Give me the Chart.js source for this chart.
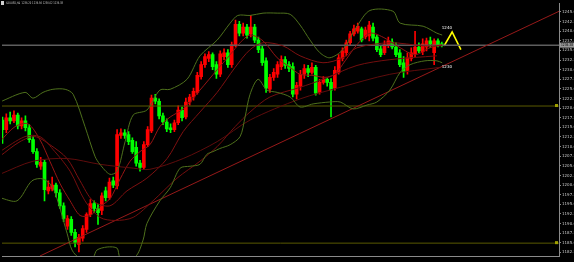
<!DOCTYPE html>
<html><head><meta charset="utf-8">
<script src="https://cdn.jsdelivr.net/npm/chart.js@4"></script>
<style>html,body{margin:0;padding:0;background:#000;overflow:hidden}canvas{display:block}</style>
</head><body>
<canvas id="c" width="574" height="262" style="width:574px;height:262px"></canvas>
<script>
// ---- DATA ----
const opens=[1216.9,1214.4,1217.5,1216.7,1218.2,1215.4,1216.7,1214.9,1211.8,1208.7,1204.9,1205.9,1198.5,1199.0,1200.0,1198.0,1194.6,1189.3,1191.1,1187.7,1184.6,1186.2,1188.5,1192.3,1195.2,1193.9,1193.4,1198.5,1196.7,1201.1,1199.8,1212.9,1213.6,1213.1,1211.6,1209.8,1205.7,1204.6,1210.5,1214.1,1222.6,1221.8,1218.0,1216.4,1214.9,1214.4,1216.2,1219.5,1217.7,1221.6,1222.9,1224.1,1228.2,1231.3,1232.9,1233.9,1231.3,1228.8,1233.4,1234.4,1231.3,1236.5,1241.8,1239.5,1241.1,1239.3,1241.1,1237.7,1235.4,1232.3,1224.9,1228.0,1228.8,1230.8,1232.6,1231.3,1230.8,1223.6,1225.7,1228.8,1230.3,1229.3,1230.6,1224.1,1226.7,1227.5,1226.7,1225.2,1229.3,1232.9,1234.4,1237.0,1239.3,1240.0,1240.6,1238.5,1238.8,1241.1,1238.5,1235.4,1234.4,1236.5,1237.2,1235.9,1234.4,1231.8,1229.8,1232.9,1234.1,1235.9,1234.7,1235.9,1237.5,1234.4,1237.5,1236.7];
const highs=[1217.7,1218.5,1219.0,1219.3,1218.7,1217.5,1218.0,1215.7,1212.6,1209.5,1207.2,1206.4,1201.1,1202.1,1200.5,1198.8,1195.4,1192.1,1191.8,1188.5,1187.2,1189.5,1192.8,1196.2,1195.9,1194.9,1198.0,1199.5,1201.8,1202.1,1214.4,1214.6,1214.4,1213.9,1212.3,1211.3,1206.4,1211.3,1215.2,1223.4,1223.6,1222.4,1218.7,1217.2,1215.9,1216.9,1220.6,1220.3,1222.6,1223.6,1225.2,1229.3,1232.1,1234.1,1234.7,1234.4,1232.1,1234.9,1235.4,1235.2,1237.2,1242.9,1242.6,1242.1,1241.8,1244.1,1241.8,1238.5,1236.2,1233.1,1228.8,1230.3,1232.1,1233.6,1233.4,1232.1,1231.8,1226.7,1229.8,1231.3,1231.1,1231.8,1231.1,1227.5,1228.2,1228.0,1227.7,1230.8,1233.9,1235.7,1237.7,1240.0,1241.6,1242.1,1241.1,1241.1,1242.6,1242.1,1239.0,1236.2,1237.5,1238.5,1238.0,1237.0,1235.2,1233.4,1234.4,1235.7,1240.0,1237.0,1238.0,1238.2,1238.5,1238.0,1238.0,1237.2];
const lows=[1210.8,1213.6,1215.9,1216.2,1214.6,1214.6,1214.1,1211.1,1208.2,1204.6,1204.1,1195.9,1197.7,1198.5,1196.9,1193.9,1190.5,1188.5,1186.9,1183.9,1182.6,1185.4,1187.7,1191.8,1192.8,1189.8,1192.3,1195.9,1196.2,1199.3,1199.0,1212.1,1212.1,1210.5,1208.2,1204.9,1203.6,1204.1,1210.0,1213.6,1221.1,1217.2,1215.7,1213.9,1213.6,1213.9,1215.7,1216.7,1217.2,1220.8,1222.1,1223.6,1227.5,1230.6,1232.1,1230.0,1227.7,1228.2,1232.6,1230.6,1230.6,1235.9,1238.8,1238.8,1238.2,1238.5,1237.0,1234.4,1231.1,1224.1,1224.1,1227.2,1228.0,1230.0,1230.3,1229.5,1222.9,1222.4,1224.7,1227.7,1228.2,1228.8,1223.4,1223.6,1226.2,1225.7,1217.7,1224.7,1228.8,1232.3,1233.6,1236.5,1238.8,1239.5,1237.2,1238.0,1237.5,1237.5,1234.7,1233.4,1233.9,1235.7,1235.4,1233.4,1230.8,1228.0,1228.8,1232.3,1233.4,1234.4,1233.9,1234.9,1235.7,1231.3,1235.9,1235.9];
const closes=[1214.4,1217.5,1216.7,1218.2,1215.4,1216.7,1214.9,1211.8,1208.7,1205.4,1205.9,1198.8,1199.5,1200.0,1198.0,1194.6,1191.3,1191.3,1187.7,1185.1,1186.4,1188.7,1192.3,1195.2,1193.9,1192.8,1197.2,1196.7,1200.8,1200.0,1213.1,1213.6,1212.9,1211.3,1208.7,1205.7,1204.6,1210.5,1214.4,1222.6,1221.8,1218.0,1216.4,1214.6,1214.4,1216.2,1219.5,1217.5,1221.6,1222.9,1224.4,1228.5,1231.3,1233.4,1233.9,1230.8,1228.8,1234.1,1234.4,1231.3,1236.5,1241.8,1239.5,1241.1,1239.0,1241.1,1237.7,1235.2,1231.8,1225.2,1228.0,1229.3,1231.3,1232.6,1231.1,1230.3,1223.6,1225.9,1228.8,1230.3,1229.3,1230.6,1223.9,1226.7,1227.5,1226.7,1224.7,1229.8,1233.1,1234.9,1237.0,1239.3,1240.6,1241.3,1237.7,1240.3,1241.6,1238.2,1235.2,1233.9,1236.5,1237.5,1235.9,1233.9,1231.3,1229.5,1233.1,1234.4,1235.9,1234.9,1236.7,1237.5,1236.7,1237.5,1236.5,1236.4];

const timeLabels=["25 Jan 2017","26 Jan 00:00","26 Jan 20:00","27 Jan 16:00","30 Jan 12:00","31 Jan 08:00","1 Feb 04:00","2 Feb 00:00","2 Feb 20:00","3 Feb 16:00","6 Feb 12:00","7 Feb 08:00","8 Feb 04:00","9 Feb 00:00","9 Feb 20:00","10 Feb 16:00","13 Feb 12:00","14 Feb 08:00","15 Feb 04:00","16 Feb 00:00","16 Feb 20:00","17 Feb 16:00","20 Feb 12:00","21 Feb 08:00"];
const timeTickIdx=[0,5,10,15,20,25,30,35,40,45,50,55,60,65,70,75,80,85,90,95,100,105,110,115];
const priceTicks=[1245,1242.5,1240,1237.5,1235,1232.5,1230,1227.5,1225,1222.5,1220,1217.5,1215,1212.5,1210,1207.5,1205,1202.5,1200,1197.5,1195,1192.5,1190,1187.5,1185,1182.5];
const priceLabels=["1245.00","1242.50","1240.00","1237.50","1235.00","1232.50","1230.00","1227.50","1225.00","1222.50","1220.00","1217.50","1215.00","1212.50","1210.00","1207.50","1205.00","1202.50","1200.00","1197.50","1195.00","1192.50","1190.00","1187.50","1185.00","1182.50"];

const bbUpper=[[-0.7,1221.6],[5.9,1224.1],[8.0,1222.6],[10.6,1224.1],[13.2,1224.9],[16.4,1224.9],[18.5,1223.6],[21.6,1215.2],[24.2,1207.5],[25.5,1205.4],[28.1,1202.8],[30.0,1203.6],[32.1,1211.3],[34.2,1218.2],[37.8,1219.5],[41.2,1224.7],[43.9,1224.9],[48.3,1227.5],[51.7,1233.6],[56.2,1237.7],[59.6,1242.1],[61.6,1244.1],[64.8,1244.1],[68.2,1244.7],[71.9,1244.7],[75.3,1244.4],[77.9,1241.6],[80.5,1237.7],[83.1,1234.4],[85.7,1233.1],[89.1,1235.2],[92.8,1241.3],[96.2,1245.4],[102.2,1245.2],[104.1,1242.1],[110.1,1241.3],[113.7,1239.5],[115.1,1239.0]];
const bbLower=[[-0.7,1196.7],[3.8,1195.9],[7.7,1201.1],[10.6,1201.6],[13.2,1199.3],[16.9,1187.5],[18.2,1183.1],[20.3,1181.0],[23.7,1181.3],[24.7,1183.1],[27.4,1183.9],[30.0,1183.6],[30.8,1181.3],[34.7,1181.3],[36.8,1185.7],[37.8,1190.0],[41.2,1195.9],[43.9,1199.3],[46.5,1204.4],[49.1,1204.9],[51.7,1205.4],[53.5,1208.0],[55.1,1208.7],[56.9,1209.5],[59.6,1210.5],[62.2,1212.6],[63.5,1217.7],[64.8,1223.6],[66.9,1227.5],[69.2,1224.7],[71.9,1224.1],[75.3,1222.9],[77.9,1220.3],[81.3,1221.1],[85.7,1221.6],[88.4,1221.6],[91.8,1219.8],[95.4,1220.8],[98.0,1221.6],[101.4,1224.7],[104.1,1229.3],[106.7,1231.3],[110.6,1232.3],[113.7,1232.3],[115.1,1231.8]];
const maFast=[[-0.7,1211.3],[3.3,1215.2],[6.7,1215.9],[9.8,1211.8],[12.4,1206.2],[15.1,1200.3],[17.7,1195.9],[20.3,1192.1],[22.9,1192.1],[25.5,1194.4],[28.1,1196.4],[30.8,1201.6],[33.4,1206.2],[36.0,1208.7],[38.6,1210.5],[41.2,1215.2],[43.9,1217.7],[47.3,1219.8],[51.7,1224.7],[56.2,1230.0],[59.6,1233.9],[62.2,1237.0],[64.8,1239.0],[68.2,1237.5],[71.9,1233.1],[75.3,1230.6],[77.9,1228.8],[81.3,1228.5],[84.4,1228.0],[87.0,1228.8],[89.7,1232.3],[92.8,1236.5],[96.2,1239.5],[100.1,1238.2],[104.1,1235.7],[108.0,1233.9],[111.9,1235.7],[115.1,1236.5]];
const maMid=[[-0.7,1207.5],[4.6,1211.3],[8.5,1212.6],[12.4,1210.5],[16.9,1206.9],[20.3,1201.1],[23.7,1195.9],[28.1,1194.6],[32.6,1198.5],[37.8,1201.8],[43.1,1206.9],[47.3,1213.9],[51.7,1219.0],[56.2,1224.1],[60.9,1230.6],[64.8,1235.2],[68.2,1237.0],[73.4,1236.2],[77.9,1233.6],[83.9,1231.8],[89.1,1233.1],[92.8,1235.7],[101.4,1237.0],[110.1,1236.2],[115.1,1236.2]];
const maSlow=[[-0.7,1208.7],[5.9,1212.6],[9.8,1212.6],[13.7,1208.7],[17.7,1203.6],[21.6,1195.9],[25.5,1191.6],[29.5,1190.8],[34.2,1191.6],[39.4,1195.9],[45.7,1201.8],[51.7,1206.2],[56.2,1210.0],[60.9,1215.2],[64.8,1219.0],[70.0,1222.9],[77.9,1225.4],[83.9,1227.5],[92.8,1231.1],[101.4,1232.6],[113.7,1233.6]];
const maLong=[[-0.7,1202.8],[8.0,1206.2],[16.9,1206.9],[25.5,1205.4],[34.2,1204.4],[38.6,1204.1],[47.3,1206.9],[56.2,1211.3],[64.8,1216.9],[77.9,1222.4],[88.4,1225.4],[101.4,1228.8],[114.5,1230.6]];
const trendLine=[[9.8,1181.56],[145.7,1245.18]];
const zigzag=[[115.6,1236.2],[117.7,1239.8],[120.0,1235.2]];
const bidPrice=1236.38;
const levelLines=[1220.55,1184.9];
const noteLevels=[[115.0,1240.8,"1240"],[115.0,1230.8,"1230"]];
const headerText="XAUUSD,H4  1236.20 1236.56 1236.02 1236.38";
const xMin=-0.13, xMax=145.68, yMin=1181.56, yMax=1247.23;

// ---- CHART ----
const RED='#ff0000', LIME='#00ff00';
const candleColor=ctx=>closes[ctx.dataIndex]>=opens[ctx.dataIndex]?RED:LIME;
const pts=a=>a.map(p=>({x:p[0],y:p[1]}));
const hline=v=>[{x:xMin,y:v},{x:xMax,y:v}];
const line=(data,color,w,t)=>({type:'line',data,borderColor:color,borderWidth:w,pointRadius:0,tension:t,fill:false,order:1});

const overlay={id:'overlay',afterDatasetsDraw(chart){
  const c=chart.ctx, xs=chart.scales.x, ys=chart.scales.y;
  c.save();
  c.fillStyle='#d0d0d0';c.fillRect(1,1,3,4);
  c.font='3.5px "DejaVu Sans"';c.textBaseline='top';c.fillStyle='#c8c8c8';
  c.fillText(headerText,6,1,57);
  c.font='4px "DejaVu Sans"';c.fillStyle='#ffffff';c.textBaseline='middle';
  noteLevels.forEach(n=>c.fillText(n[2],xs.getPixelForValue(n[0]),ys.getPixelForValue(n[1])));
  levelLines.forEach(v=>{const y=ys.getPixelForValue(v);c.fillStyle='#a0a000';c.fillRect(555,y-2,3,3);});
  const by=ys.getPixelForValue(bidPrice);
  c.fillStyle='#9a9a9a';c.fillRect(560,by-2.5,14,5);
  c.fillStyle='#000';c.font='4px "DejaVu Sans"';c.fillText(bidPrice.toFixed(2),561,by+0.2,12);
  c.restore();
}};

new Chart(document.getElementById('c'),{
  type:'bar',
  data:{datasets:[
    line(pts(bbUpper),'rgb(78,112,28)',1,0.3),
    line(pts(bbLower),'rgb(78,112,28)',1,0.3),
    line(pts(maLong),'rgb(95,12,12)',1,0.3),
    line(pts(maSlow),'rgb(115,14,14)',1,0.3),
    line(pts(maMid),'rgb(125,16,16)',1,0.3),
    line(pts(maFast),'rgb(150,20,20)',1,0.3),
    line(pts(trendLine),'rgb(150,25,25)',1,0),
    line(hline(bidPrice),'#5e5e5e',1.5,0),
    line(hline(levelLines[0]),'#5a5a00',1,0),
    line(hline(levelLines[1]),'#5a5a00',1,0),
    line(pts(zigzag),'#ffff00',1.6,0),
    {type:'bar',data:closes.map((c,i)=>({x:i,y:[lows[i],highs[i]]})),backgroundColor:candleColor,barThickness:1,grouped:false,order:3,borderWidth:0},
    {type:'bar',data:closes.map((c,i)=>({x:i,y:[opens[i],c]})),backgroundColor:candleColor,barThickness:3,minBarLength:1,grouped:false,order:2,borderWidth:0}
  ]},
  options:{
    responsive:false,animation:false,events:[],devicePixelRatio:1,
    layout:{padding:{left:2,right:0,top:0,bottom:0},autoPadding:false},
    plugins:{legend:{display:false},tooltip:{enabled:false}},
    scales:{
      x:{type:'linear',min:xMin,max:xMax,offset:false,
        grid:{display:false},border:{display:true,color:'#8a8a8a'},
        ticks:{autoSkip:false,maxRotation:0,minRotation:0,align:'start',padding:1,color:'#c8c8c8',font:{size:3.5,family:'DejaVu Sans'},callback:(v,i)=>timeLabels[i]},
        afterBuildTicks:s=>{s.ticks=timeTickIdx.map(v=>({value:v}));},
        afterFit:s=>{s.height=6;}},
      y:{type:'linear',position:'right',min:yMin,max:yMax,
        grid:{drawOnChartArea:false,color:'#8a8a8a',tickLength:2},border:{display:true,color:'#8a8a8a'},
        ticks:{autoSkip:false,padding:1,color:'#c8c8c8',font:{size:4,family:'DejaVu Sans'},callback:(v,i)=>priceLabels[i]},
        afterBuildTicks:s=>{s.ticks=priceTicks.map(v=>({value:v}));},
        afterFit:s=>{s.width=15;}}
    }
  },
  plugins:[overlay]
});
</script>
</body></html>
